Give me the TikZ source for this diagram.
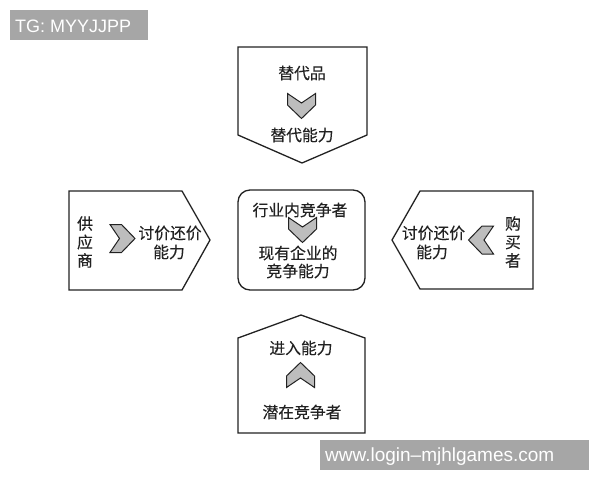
\documentclass[tikz,border=0pt]{standalone}
\usepackage{fontspec}
\setmainfont{Liberation Sans}
\newfontfamily\cjk[FakeBold=0.3]{Noto Sans CJK SC}
\definecolor{wmgray}{HTML}{A6A6A6}
\definecolor{chevgray}{HTML}{BDBDBD}
\definecolor{linecol}{HTML}{222222}
\tikzset{
  box/.style={draw=linecol, line width=1.3pt, line join=miter},
  lbl/.style={font=\cjk\fontsize{15.8}{18}\selectfont, inner sep=0pt, text=linecol},
  vlbl/.style={font=\cjk\fontsize{15.8}{18.5}\selectfont, inner sep=0pt, align=center, text=linecol},
  wm/.style={font=\fontsize{18}{20}\selectfont, text=white, inner sep=0pt, anchor=base west},
  chev/.pic={
    \filldraw[fill=chevgray, draw=linecol, line width=1pt, line join=miter]
      (-12.5,-14) -- (-1,-14) -- (12.5,0) -- (-1,14) -- (-12.5,14) -- (-3,0) -- cycle;
  }
}
\begin{document}
\begin{tikzpicture}[x=1pt, y=-1pt]
\path[use as bounding box, fill=white] (0,0) rectangle (600,480);

% top box: substitutes
\draw[box] (238,47) -- (367,47) -- (367,135) -- (302,163) -- (238,135) -- cycle;
\node[lbl] (t1) at (302,73) {替代品};
\pic at (301.5,106) [rotate=-90] {chev};
\node[lbl] (t2) at (302,135) {替代能力};

% left box: suppliers
\draw[box] (69,191) -- (182,191) -- (210,240) -- (182,290) -- (69,290) -- cycle;
\node[vlbl] (l1) at (85,242) {供\\应\\商};
\pic at (122.5,238.5) {chev};
\node[lbl] (l2) at (170,233) {讨价还价};
\node[lbl] (l3) at (169,252) {能力};

% center box: rivals
\draw[box, rounded corners=12pt] (238,190) rectangle (365,290);
\node[lbl] (c1) at (300,210) {行业内竞争者};
\pic at (302.5,230) [rotate=-90] {chev};
\node[lbl] (c2) at (298,253) {现有企业的};
\node[lbl] (c3) at (298,271) {竞争能力};

% right box: buyers
\draw[box] (392,240) -- (420,191) -- (533,191) -- (533,289) -- (420,289) -- cycle;
\node[lbl] (r1) at (433.5,233) {讨价还价};
\node[lbl] (r2) at (432,252) {能力};
\pic at (481,240) [rotate=180] {chev};
\node[vlbl] (r3) at (513,242) {购\\买\\者};

% bottom box: potential entrants
\draw[box] (238,338) -- (301,315) -- (365,338) -- (365,433) -- (238,433) -- cycle;
\node[lbl] (b1) at (301,348) {进入能力};
\pic at (300.5,375) [rotate=90] {chev};
\node[lbl] (b2) at (302,412) {潜在竞争者};

% watermarks
\fill[wmgray] (10,10) rectangle (148,39.5);
\node[wm] (wm1) at (15,32) {TG: MYYJJPP};
\fill[wmgray] (320,440) rectangle (589,469.5);
\node[wm, font=\fontsize{19}{21}\selectfont] (wm2) at (325,461) {www.login–mjhlgames.com};
\end{tikzpicture}
\end{document}
